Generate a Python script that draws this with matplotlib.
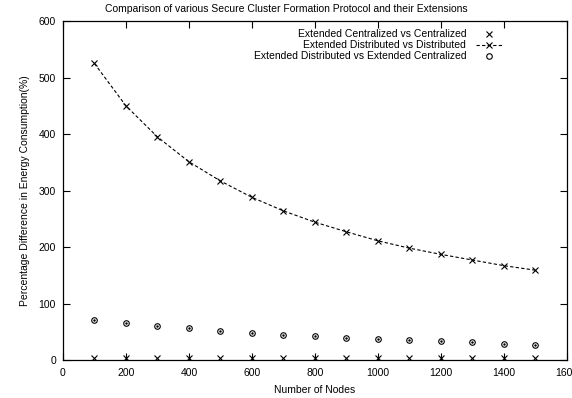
import numpy as np
import matplotlib
matplotlib.use('Agg')
import matplotlib.pyplot as plt

plt.rcParams['font.family'] = ['Liberation Sans', 'DejaVu Sans']

nodes = [100, 200, 300, 400, 500, 600, 700, 800, 900, 1000, 1100, 1200, 1300, 1400, 1500]
ext_central = [3, 3, 3, 3, 3, 3, 3, 3, 3, 3, 3, 3, 3, 3, 3]
ext_distrib = [525, 450, 395, 351, 317, 288, 264, 244, 227, 211, 198, 187, 177, 167, 159]
ext_d_vs_c = [70, 65, 60, 56, 52, 48, 45, 42, 39, 37, 35, 33, 31, 29, 27]

fig = plt.figure(figsize=(5.72, 3.98), dpi=100)
ax = fig.add_axes([0.110, 0.0955, 0.881, 0.8515])

ax.plot(nodes, ext_central, ls='none', marker='x', color='black', ms=4, mew=0.8,
        label='Extended Centralized vs Centralized')
ax.plot(nodes, ext_distrib, ls=(0, (3, 2)), lw=0.8, marker='x', color='black', ms=4, mew=0.8,
        label='Extended Distributed vs Distributed')
ax.plot(nodes, ext_d_vs_c, ls='none', marker='o', mfc='none', color='black', ms=4, mew=0.8,
        label='Extended Distributed vs Extended Centralized')
# dot in center of circles
ax.plot(nodes, ext_d_vs_c, ls='none', marker='.', color='black', ms=1.5)

ax.set_xlim(0, 1600)
ax.set_ylim(0, 600)
ax.set_xticks(np.arange(0, 1601, 200))
ax.set_yticks(np.arange(0, 601, 100))
ax.tick_params(direction='in', length=5, width=0.8, top=True, right=True, labelsize=7.5)
ax.tick_params(axis='x', pad=6)
ax.tick_params(axis='y', pad=5)
for s in ax.spines.values():
    s.set_linewidth(0.9)

fig.text(0.5, 0.978, 'Comparison of various Secure Cluster Formation Protocol and their Extensions',
         fontsize=7.5, ha='center', va='center')
ax.set_xlabel('Number of Nodes', fontsize=7.5, labelpad=5)
ax.set_ylabel('Percentage Difference in Energy Consumption(%)', fontsize=7.5, labelpad=6)

ax.legend(loc='upper right', bbox_to_anchor=(0.881, 0.988), frameon=False,
          markerfirst=False, fontsize=7.5, handlelength=2.6, handletextpad=0.9,
          labelspacing=0.1, borderaxespad=0)

fig.savefig('out.png', dpi=100)
